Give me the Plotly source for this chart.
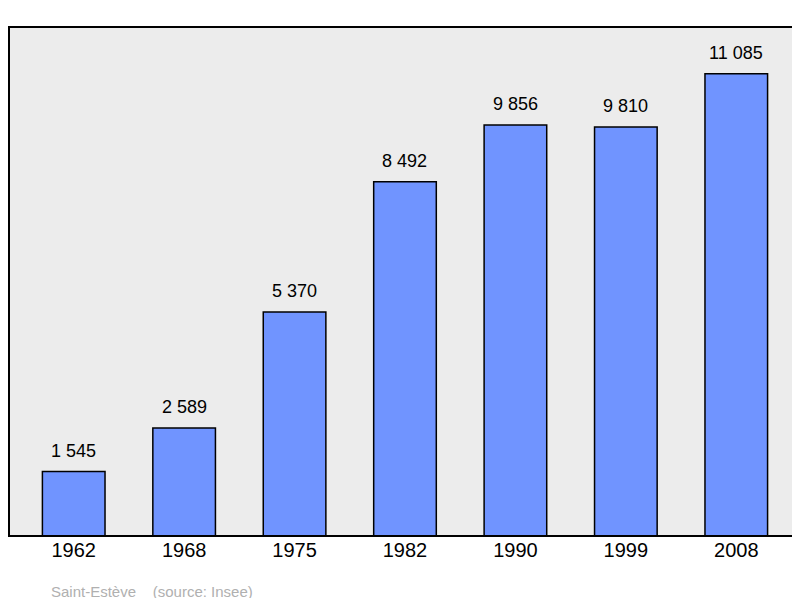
import plotly.graph_objects as go

years = ["1962", "1968", "1975", "1982", "1990", "1999", "2008"]
population = [1545, 2589, 5370, 8492, 9856, 9810, 11085]
labels = ["1 545", "2 589", "5 370", "8 492", "9 856", "9 810", "11 085"]

xs = list(range(len(years)))
fig = go.Figure(go.Bar(
    x=xs, y=population, width=0.567,
    marker=dict(color="#7094ff", line=dict(color="black", width=1.5)),
))
ann = [dict(x=x, y=v, text=t, showarrow=False, yanchor="bottom", yshift=9,
            font=dict(size=18, color="black", family="Liberation Sans"))
       for x, v, t in zip(xs, population, labels)]
ann.append(dict(text="Saint-Estève    (source: Insee)", xref="paper", yref="paper",
                x=(49 - 9) / 781, y=-(583 - 528) / 501, xanchor="left", yanchor="middle",
                showarrow=False, font=dict(size=15, color="#b0b0b0")))
fig.update_layout(
    width=792, height=590, margin=dict(l=1, r=2, t=19, b=62),
    paper_bgcolor="white", plot_bgcolor="#ececec", showlegend=False,
    font=dict(family="Liberation Sans"),
    xaxis=dict(range=[-0.586, 6.559], tickvals=xs, ticktext=years, showgrid=False,
               zeroline=False, ticks="", tickfont=dict(size=20, color="black")),
    yaxis=dict(range=[0, 12205], visible=False, showgrid=False),
    shapes=[dict(type="rect", xref="paper", yref="paper", x0=0, x1=1, y0=0, y1=1,
                 line=dict(color="black", width=2))],
    annotations=ann,
)
fig.write_html("out.html")
